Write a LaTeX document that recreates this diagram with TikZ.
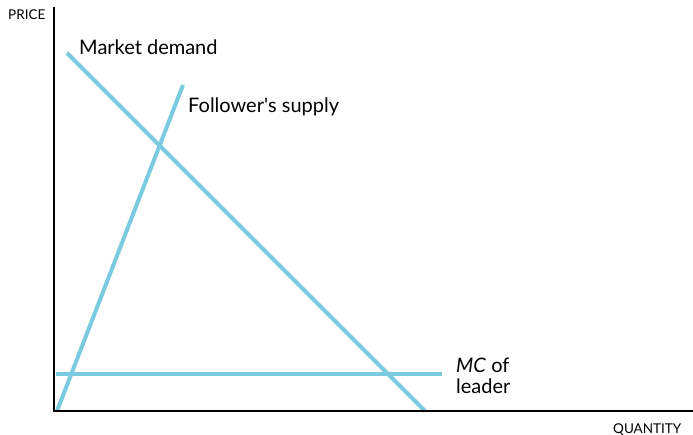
\documentclass[tikz,border=0pt]{standalone}
\usepackage{fontspec}
\setmainfont{Lato}
\usepackage{tikz}
\usetikzlibrary{positioning}
\definecolor{skyline}{RGB}{122, 202, 224}
\tikzstyle{curve} = [draw=skyline, line width=4pt]
\tikzstyle{axis} = [draw=black, line width=2.5pt]
\tikzstyle{textonly} = [draw=none, fill=none, inner sep=0pt, anchor=base west, font=\fontsize{20}{24}\selectfont]
\tikzstyle{axislabel} = [draw=none, fill=none, inner sep=0pt, anchor=base west, font=\fontsize{13.5}{16}\selectfont]

\begin{document}
\begin{tikzpicture}[x=1pt, y=-1pt]
\useasboundingbox (0,0) rectangle (693,435);

% axes =============================
\coordinate (origin) at (54,411);
\coordinate (ptop) at (54,7);
\coordinate (qend) at (693,411);
\node[axislabel] (price) at (8,20) {PRICE};
\node[axislabel] (quantity) at (613,433) {QUANTITY};

% curves =============================
\coordinate (d0) at (67,53);
\coordinate (d1) at (425,411);
\coordinate (s0) at (57,411);
\coordinate (s1) at (183,85);
\coordinate (mc0) at (56,374);
\coordinate (mc1) at (442,374);
\node[textonly] (demand) at (79,55) {Market demand};
\node[textonly] (supply) at (188,113) {Follower\textquotesingle s supply};
\node[textonly] (mc) at (456,372) {\textit{MC} of};
\node[textonly] (leader) at (456,393) {leader};

% edges
\path[curve] (d0) -- (d1);
\path[curve] (s0) -- (s1);
\path[curve] (mc0) -- (mc1);
\path[axis] (ptop) -- (origin) -- (qend);

\end{tikzpicture}
\end{document}
